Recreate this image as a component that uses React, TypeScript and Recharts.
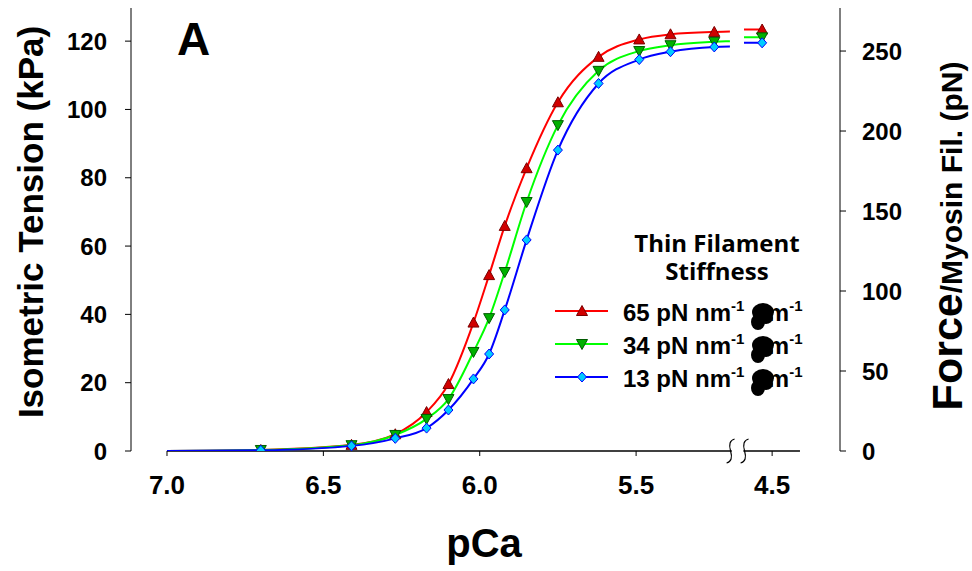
import React from "react";
import {
  LineChart,
  Line,
  XAxis,
  YAxis,
  Legend,
  Label,
  ReferenceLine,
  ReferenceDot,
} from "recharts";

// measured pCa of each point (the 4.5 point sits past the axis break)
const pCa = [6.7, 6.41, 6.27, 6.17, 6.1, 6.02, 5.97, 5.92, 5.85, 5.75, 5.62, 5.49, 5.39, 5.25, 4.5];
const tension65 = [0.3, 1.8, 4.9, 11.4, 19.6, 37.6, 51.5, 65.9, 82.8, 102.1, 115.4, 120.5, 122.0, 122.7, 123.4];
const tension34 = [0.3, 1.7, 4.7, 9.4, 15.2, 29.0, 38.9, 52.4, 72.9, 95.4, 111.3, 117.1, 118.8, 119.8, 121.1];
const tension13 = [0.2, 1.5, 3.7, 6.7, 12.0, 21.1, 28.4, 41.3, 61.8, 88.1, 107.6, 114.6, 116.9, 118.3, 119.5];

// where the curves start and where they stop at the break
const curveStartPCa = 7.0;
const curveStart = [0, 0, 0];
const breakPCa = 5.2;
const breakEdge = [122.8, 120.0, 118.4];

const xTickLabels = ["7.0", "6.5", "6.0", "5.5", "4.5"];
const xTickPos = [0, 0.5, 1.0, 1.5, 1.935];
const leftTicks = [0, 20, 40, 60, 80, 100, 120];
const rightTicks = [0, 50, 100, 150, 200, 250];
const legendTitle = ["Thin Filament", "Stiffness"];
const legendStiffness = ["65", "34", "13"];

const FONT = "Arial, 'Liberation Sans', Helvetica, sans-serif";

// x axis is reversed pCa with a break after 5.2
const afterBreak = 1.845;
function toPos(p: number) {
  return p >= breakPCa ? 7 - p : afterBreak + (breakPCa - p) * 0.0829;
}

const series = [
  { key: "s65", values: tension65, line: "#ff0000", fill: "#d00000", edge: "#7a0000", shape: "up" },
  { key: "s34", values: tension34, line: "#00ff00", fill: "#00b000", edge: "#005a00", shape: "down" },
  { key: "s13", values: tension13, line: "#0000ff", fill: "#00ccff", edge: "#0000ff", shape: "diamond" },
];

const rows: any[] = [];
const startRow: any = { pos: toPos(curveStartPCa), mark: false };
series.forEach((s, j) => (startRow[s.key] = curveStart[j]));
rows.push(startRow);
pCa.forEach((p, i) => {
  if (p < breakPCa) return;
  const r: any = { pos: toPos(p), mark: true };
  series.forEach((s) => (r[s.key] = s.values[i]));
  rows.push(r);
});
const edgeRow: any = { pos: toPos(breakPCa), mark: false };
series.forEach((s, j) => (edgeRow[s.key] = breakEdge[j]));
rows.push(edgeRow);
const gapRow: any = { pos: (toPos(breakPCa) + afterBreak) / 2, mark: false };
series.forEach((s) => (gapRow[s.key] = null));
rows.push(gapRow);
const last = pCa.length - 1;
const resumeRow: any = { pos: afterBreak, mark: false };
series.forEach((s) => (resumeRow[s.key] = s.values[last]));
rows.push(resumeRow);
const endRow: any = { pos: toPos(pCa[last]), mark: true };
series.forEach((s) => (endRow[s.key] = s.values[last]));
rows.push(endRow);

function Marker({ shape, cx, cy, fill, edge }: any) {
  let pts = "";
  if (shape === "up") pts = `${cx},${cy - 5.5} ${cx + 5.5},${cy + 4.5} ${cx - 5.5},${cy + 4.5}`;
  else if (shape === "down") pts = `${cx - 5.5},${cy - 4.5} ${cx + 5.5},${cy - 4.5} ${cx},${cy + 5.5}`;
  else pts = `${cx},${cy - 5} ${cx + 4.5},${cy} ${cx},${cy + 5} ${cx - 4.5},${cy}`;
  return <polygon points={pts} fill={fill} stroke={edge} strokeWidth={1} />;
}

const LegendBox = () => {
  const rowsY = [86, 119, 152];
  return (
    <svg width={270} height={180} style={{ overflow: "visible" }}>
      <text textAnchor="middle" fontFamily="'Open Sans', Lato, sans-serif" fontWeight={700} fontSize={24} fill="#000">
        {legendTitle.map((t, i) => (
          <tspan key={t} x={172} y={27 + i * 28}>
            {t}
          </tspan>
        ))}
      </text>
      {series.map((s, i) => {
        const y = rowsY[i];
        return (
          <g key={s.key}>
            <line x1={10} x2={63} y1={y} y2={y} stroke={s.line} strokeWidth={2} />
            <Marker shape={s.shape} cx={37} cy={y} fill={s.fill} edge={s.edge} />
            <text x={78} y={y + 10} fontFamily={FONT} fontWeight={700} fontSize={24} fill="#000">
              {legendStiffness[i]} pN nm<tspan fontSize={15} dy={-10}>-1</tspan>
            </text>
            <text x={209} y={y + 10} fontFamily={FONT} fontWeight={700} fontSize={24} fill="#000">
              µm<tspan fontSize={15} dy={-10}>-1</tspan>
            </text>
            <ellipse cx={218} cy={y + 1} rx={11} ry={9} fill="#000" />
            <ellipse cx={213} cy={y + 11} rx={7} ry={8} fill="#000" />
            <ellipse cx={221} cy={y + 7} rx={7} ry={6} fill="#000" />
          </g>
        );
      })}
    </svg>
  );
};

const AxisBreak = (props: any) => {
  const { cx, cy } = props;
  const s = (x: number) => `M ${x + 4} ${cy - 12} Q ${x - 3} ${cy - 10} ${x} ${cy} Q ${x + 3} ${cy + 10} ${x - 4} ${cy + 12}`;
  return (
    <g>
      <path d={s(cx - 7)} fill="none" stroke="#000" strokeWidth={1.2} />
      <path d={s(cx + 7)} fill="none" stroke="#000" strokeWidth={1.2} />
    </g>
  );
};

const tickStyle = { fontSize: 24, fontWeight: 700, fill: "#000", fontFamily: FONT };

export default function App() {
  return (
    <div style={{ position: "absolute", left: 0, top: 0, background: "#fff" }}>
      <LineChart width={972} height={571} data={rows} margin={{ top: 8, right: 52, left: 51, bottom: 80 }}>
        <XAxis
          dataKey="pos"
          type="number"
          domain={[-0.1151, 2.152]}
          allowDataOverflow
          ticks={xTickPos}
          tickFormatter={(v: number) => xTickLabels[xTickPos.indexOf(v)]}
          axisLine={false}
          tickLine={{ stroke: "#000" }}
          tickSize={5}
          tickMargin={20}
          height={40}
          tick={{ ...tickStyle, fontSize: 26 }}
        >
          <Label
            content={() => (
              <text x={484} y={557} textAnchor="middle" fontFamily={FONT} fontWeight={700} fontSize={40} fill="#000">
                pCa
              </text>
            )}
          />
        </XAxis>
        <YAxis
          yAxisId="left"
          domain={[0, 129.7]}
          allowDataOverflow
          ticks={leftTicks}
          width={80}
          axisLine={{ stroke: "#000" }}
          tickLine={{ stroke: "#000" }}
          tickSize={6}
          tickMargin={18}
          tick={tickStyle}
        >
          <Label
            content={() => (
              <g>
                <text x={43} y={222} transform="rotate(-90, 43, 222)" textAnchor="middle" fontFamily={FONT} fontWeight={700} fontSize={35} fill="#000">
                  Isometric Tension (kPa)
                </text>
                <text x={177} y={55} fontFamily={FONT} fontWeight={700} fontSize={46} fill="#000">
                  A
                </text>
              </g>
            )}
          />
        </YAxis>
        <YAxis
          yAxisId="right"
          orientation="right"
          domain={[0, 276.9]}
          allowDataOverflow
          ticks={rightTicks}
          width={80}
          axisLine={{ stroke: "#000" }}
          tickLine={{ stroke: "#000" }}
          tickSize={6}
          tickMargin={16}
          tick={tickStyle}
        >
          <Label
            content={() => (
              <text x={962} y={236} transform="rotate(-90, 962, 236)" textAnchor="middle" fontFamily={FONT} fontWeight={700} fontSize={30} fill="#000">
                <tspan fontSize={43}>Force</tspan>/Myosin Fil. (pN)
              </text>
            )}
          />
        </YAxis>
        <ReferenceLine yAxisId="left" segment={[{ x: 0, y: 0 }, { x: 1.806, y: 0 }]} stroke="#000" strokeWidth={1.3} ifOverflow="visible" />
        <ReferenceLine yAxisId="left" segment={[{ x: 1.843, y: 0 }, { x: 2.024, y: 0 }]} stroke="#000" strokeWidth={1.3} ifOverflow="visible" />
        <ReferenceDot yAxisId="left" x={1.8245} y={0} r={0} ifOverflow="visible" shape={AxisBreak} />
        {/* invisible series so the right-hand axis gets its ticks */}
        <Line yAxisId="right" dataKey="s65" stroke="transparent" dot={false} activeDot={false} isAnimationActive={false} legendType="none" />
        {series.map((s) => (
          <Line
            key={s.key}
            yAxisId="left"
            type="monotone"
            dataKey={s.key}
            stroke={s.line}
            strokeWidth={2}
            isAnimationActive={false}
            connectNulls={false}
            dot={(p: any) =>
              p.payload && p.payload.mark && p.value != null ? (
                <Marker key={`${s.key}-${p.index}`} shape={s.shape} cx={p.cx} cy={p.cy} fill={s.fill} edge={s.edge} />
              ) : (
                <g key={`${s.key}-${p.index}`} />
              )
            }
            activeDot={false}
          />
        ))}
        <Legend
          layout="horizontal"
          verticalAlign="middle"
          align="center"
          content={() => <LegendBox />}
          wrapperStyle={{ position: "absolute", left: 545, top: 225, width: 270, height: 180 }}
        />
      </LineChart>
    </div>
  );
}
